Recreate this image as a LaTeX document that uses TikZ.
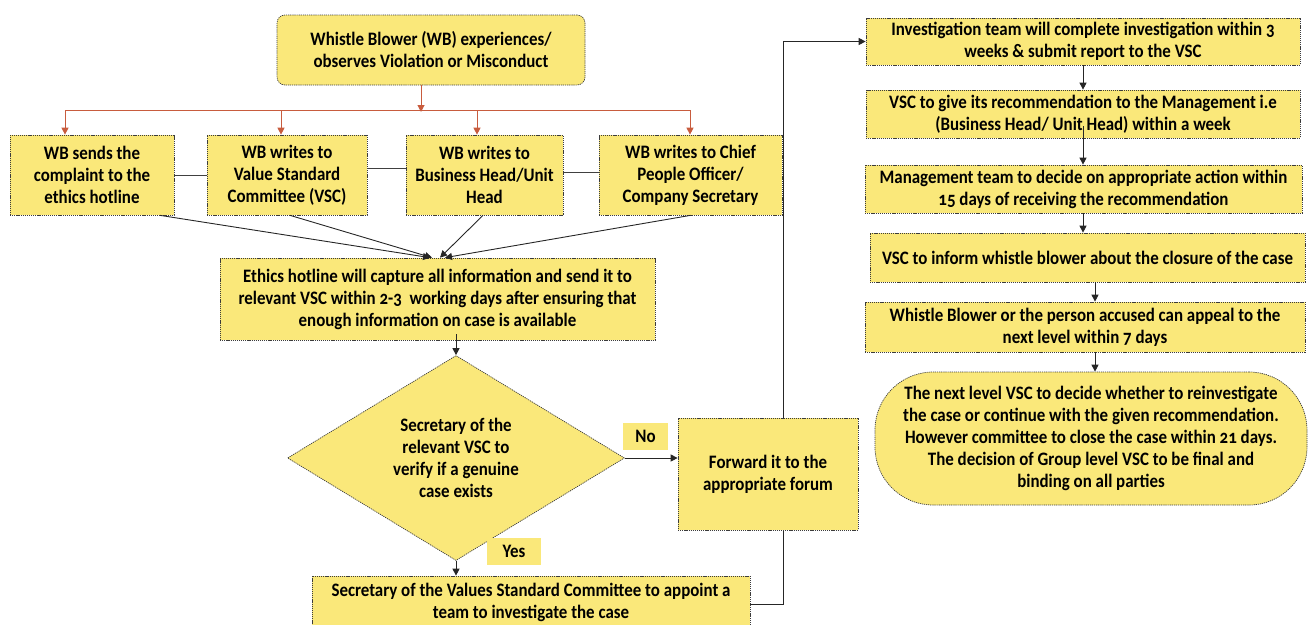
\documentclass[tikz,border=0pt]{standalone}
\usepackage{fontspec}
\setmainfont{Carlito}[Numbers=OldStyle,FakeStretch=0.89]
\usetikzlibrary{shapes.geometric,arrows.meta,backgrounds}
\definecolor{boxfill}{RGB}{250,232,122}
\definecolor{redline}{RGB}{200,92,62}
\definecolor{edgecol}{RGB}{60,60,60}
\begin{document}
\begin{tikzpicture}[x=1pt,y=-1pt,
  font=\bfseries\fontsize{19}{22}\selectfont,
  box/.style={draw=edgecol, line width=0.7pt, dash pattern=on 1.2pt off 0.9pt, fill=boxfill, align=center, inner sep=2pt},
  lbl/.style={fill=boxfill, align=center, inner sep=0pt},
  arr/.style={draw=black!85, line width=0.9pt, -{Triangle[width=7pt,length=7pt]}},
  conn/.style={draw=black!75, line width=0.9pt},
  rarr/.style={draw=redline, line width=1pt, -{Triangle[width=7pt,length=7pt]}},
  rline/.style={draw=redline, line width=1pt}]
\useasboundingbox (0,0) rectangle (1308,624);

% top
\node[box, rounded corners=8pt, minimum width=308, minimum height=70] (top) at (431,50) {Whistle Blower (WB) experiences/\\observes Violation or Misconduct};
% row
\node[box, minimum width=164, minimum height=80] (b1) at (92,175) {WB sends the\\complaint to the\\ethics hotline};
\node[box, minimum width=160, minimum height=80] (b2) at (287,175) {WB writes to\\Value Standard\\Committee (VSC)};
\node[box, minimum width=157, minimum height=80] (b3) at (484.5,175) {WB writes to\\Business Head/Unit\\Head};
\node[box, minimum width=183, minimum height=80] (b4) at (690.5,175) {WB writes to Chief\\People Officer/\\Company Secretary};
% ethics
\node[box, minimum width=435, minimum height=82] (eth) at (437.5,299) {Ethics hotline will capture all information and send it to\\relevant VSC within 2-3~ working days after ensuring that\\enough information on case is available};
% diamond
\node[box, shape=diamond, minimum width=337, minimum height=186, inner sep=0pt] (dia) at (456,458) {Secretary of the\\relevant VSC to\\verify if a genuine\\case exists};
\node[lbl, minimum width=45, minimum height=27] (no) at (645.5,436.5) {No};
\node[box, minimum width=180, minimum height=112] (fwd) at (768,474) {Forward it to the\\appropriate forum};
\node[lbl, minimum width=54, minimum height=27] (yes) at (514,551.5) {Yes};
\node[box, minimum width=438, minimum height=52] (app) at (531,602) {Secretary of the Values Standard Committee to appoint a\\team to investigate the case};

% right column
\node[box, minimum width=434, minimum height=47] (r1) at (1083,41.5) {Investigation team will complete investigation within 3\\weeks \& submit report to the VSC};
\node[box, minimum width=434, minimum height=48] (r2) at (1083,114) {VSC to give its recommendation to the Management i.e\\(Business Head/ Unit Head) within a week};
\node[box, minimum width=437, minimum height=48] (r3) at (1083.5,189) {Management team to decide on appropriate action within\\15 days of receiving the recommendation};
\node[box, minimum width=435, minimum height=49] (r4) at (1087.5,257.5) {VSC to inform whistle blower about the closure of the case};
\node[box, minimum width=440, minimum height=50] (r5) at (1085,327) {Whistle Blower or the person accused can appeal to the\\next level within 7 days};
\node[box, rounded corners=58pt, minimum width=432, minimum height=133] (r6) at (1091,438.5) {The next level VSC to decide whether to reinvestigate\\the case or continue with the given recommendation.\\However committee to close the case within 21 days.\\The decision of Group level VSC to be final and\\binding on all parties};

% coordinates
\coordinate (xr) at (421,0);
\coordinate (hb) at (0,110);
\coordinate (x1) at (65,0);
\coordinate (x2) at (281,0);
\coordinate (x3) at (477,0);
\coordinate (x4) at (690,0);
\coordinate (xl) at (783,0);
\coordinate (xa) at (1083,0);
\coordinate (xb) at (1095,0);

% red connectors
\draw[rline] (top.south -| xr) -- (xr |- hb);
\draw[rarr] (top.south -| xr) -- ([yshift=-2]xr |- hb);
\draw[rline] (x1 |- hb) -- (x4 |- hb);
\draw[rarr] (x1 |- hb) -- (b1.north -| x1);
\draw[rarr] (x2 |- hb) -- (b2.north -| x2);
\draw[rarr] (x3 |- hb) -- (b3.north -| x3);
\draw[rarr] (x4 |- hb) -- (b4.north -| x4);

% row links
\draw[conn] (b1.east) -- (b2.west);
\draw[conn] ([yshift=7]b2.east) -- ([yshift=7]b3.west);
\draw[conn] ([yshift=3]b3.east) -- ([yshift=3]b4.west);

% to ethics
\draw[arr] ([xshift=68]b1.south) -- ([xshift=-7.5]eth.north);
\draw[arr] ([xshift=3]b2.south) -- ([xshift=-5.5]eth.north);
\draw[arr] ([xshift=-1.5]b3.south) -- ([xshift=2.5]eth.north);
\draw[arr] ([xshift=0]b4.south) -- ([xshift=7.5]eth.north);

\draw[arr] ([yshift=6]eth.south -| dia.north) -- (dia.north);
\draw[arr] (dia.south) -- (app.north -| dia.south);
\draw[arr] (dia.east) -- (dia.east -| fwd.west);

% right column arrows
\draw[arr] (r1.south -| xa) -- (r2.north -| xa);
\draw[arr] ([yshift=12]r2.south -| xa) -- (r3.north -| xa);
\draw[arr] (r3.south -| xa) -- (r4.north -| xa);
\draw[arr] (r4.south -| xb) -- (r5.north -| xb);
\draw[arr] (r5.south -| xb) -- (r6.north -| xb);

% long connector behind forward box
\begin{scope}[on background layer]
\draw[arr] ([yshift=-2]app.east) -- ([yshift=-2]app.east -| xl) -- (xl |- r1.west) -- (r1.west);
\end{scope}
\end{tikzpicture}
\end{document}
